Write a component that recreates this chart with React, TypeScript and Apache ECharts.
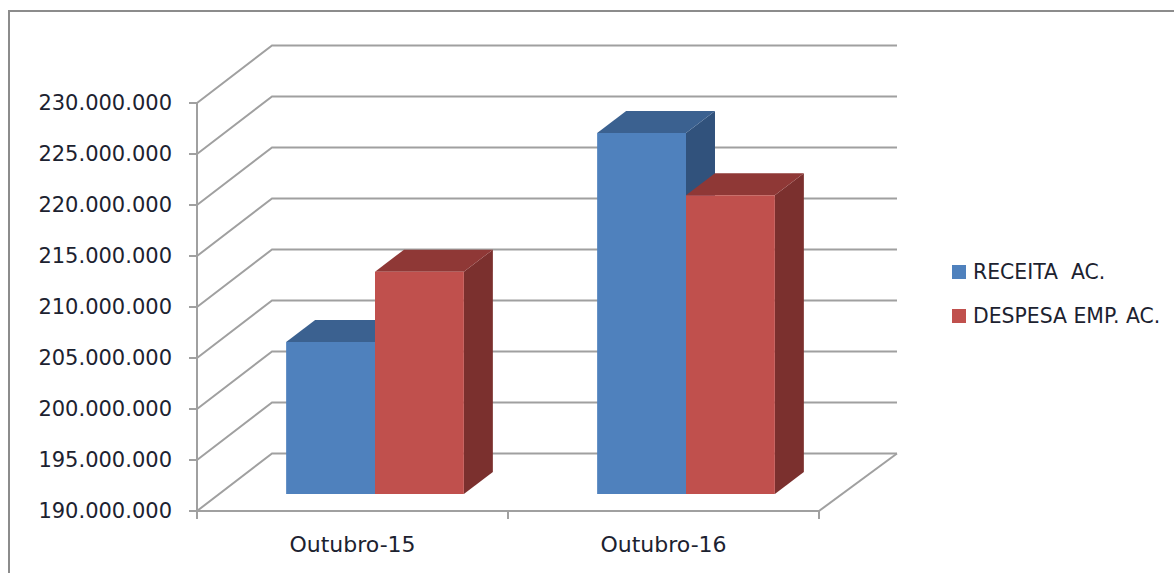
import React, { useEffect, useRef } from "react";
import * as echarts from "echarts";

const categories = ["Outubro-15", "Outubro-16"];
const receita = [204900000, 225400000];
const despesa = [211800000, 219300000];
const yTicks = [190000000, 195000000, 200000000, 205000000, 210000000, 215000000, 220000000, 225000000, 230000000];
const seriesNames = ["RECEITA  AC.", "DESPESA EMP. AC."];

const DEPTH_X_LEFT = 75;
const DEPTH_X_RIGHT = 78;
const DEPTH_Y = 57.5;
const BAR_DX = 22.5;
const BAR_DY = 17;
const SIDE_DX = 29;
const SIDE_DY = 22;
const GRID_COLOR = "#a0a0a0";
const TEXT_COLOR = "#1c2230";
const FONT = "DejaVu Sans";

const fmt = (v: number) => String(Math.round(v)).replace(/\B(?=(\d{3})+(?!\d))/g, ".");

const bar3d = (seriesIndex: number, front: string, top: string, side: string) => (params: any, api: any) => {
  const idx = api.value(0);
  const val = api.value(1);
  const band = api.size([1, 0])[0];
  const barW = band / 3.5;
  const centre = api.coord([idx, val])[0];
  const x0 = centre - barW + seriesIndex * barW + BAR_DX;
  const x1 = x0 + barW;
  const yTop = api.coord([idx, val])[1] - BAR_DY;
  const yBase = api.coord([idx, yTicks[0]])[1] - BAR_DY;
  const dx = SIDE_DX;
  const dy = SIDE_DY;
  return {
    type: "group",
    children: [
      { type: "polygon", shape: { points: [[x1, yTop], [x1 + dx, yTop - dy], [x1 + dx, yBase - dy], [x1, yBase]] }, style: { fill: side } },
      { type: "polygon", shape: { points: [[x0, yTop], [x0 + dx, yTop - dy], [x1 + dx, yTop - dy], [x1, yTop]] }, style: { fill: top } },
      { type: "rect", shape: { x: x0, y: yTop, width: barW, height: yBase - yTop }, style: { fill: front } },
    ],
  };
};

const wallLines = (params: any, api: any) => {
  const val = api.value(1);
  const band = api.size([1, 0])[0];
  const [cx, y] = api.coord([0, val]);
  const left = cx - band / 2;
  const right = left + band * categories.length;
  const children: any[] = [
    {
      type: "polyline",
      shape: { points: [[left, y], [left + DEPTH_X_LEFT, y - DEPTH_Y], [right + DEPTH_X_RIGHT, y - DEPTH_Y]] },
      style: { stroke: GRID_COLOR, lineWidth: 2, fill: "none" },
    },
  ];
  if (val === yTicks[0]) {
    children.push({
      type: "line",
      shape: { x1: right, y1: y, x2: right + DEPTH_X_RIGHT, y2: y - DEPTH_Y },
      style: { stroke: GRID_COLOR, lineWidth: 2 },
    });
  }
  return { type: "group", children };
};

export default function App() {
  const ref = useRef<HTMLDivElement>(null);
  useEffect(() => {
    const chart = echarts.init(ref.current!, undefined, { renderer: "svg" });
    chart.setOption({
      animation: false,
      backgroundColor: "#ffffff",
      textStyle: { fontFamily: FONT },
      grid: { left: 197, top: 103, width: 622, height: 408, containLabel: false },
      graphic: [
        {
          type: "polyline",
          shape: { points: [[9, 573], [9, 11], [1174, 11]] },
          style: { stroke: "#8c8c8c", lineWidth: 2, fill: "none" },
        },
      ],
      legend: {
        data: seriesNames,
        orient: "vertical",
        left: 947,
        top: 257,
        itemWidth: 14,
        itemHeight: 14,
        itemGap: 24,
        icon: "rect",
        textStyle: { fontFamily: FONT, fontSize: 20.4, color: TEXT_COLOR, padding: [0, 0, 0, 2] },
      },
      xAxis: {
        type: "category",
        data: categories,
        axisLine: { lineStyle: { color: GRID_COLOR, width: 2 } },
        axisTick: { show: true, length: 8, lineStyle: { color: GRID_COLOR, width: 2 } },
        axisLabel: { fontFamily: FONT, fontSize: 22, color: TEXT_COLOR, margin: 22 },
        splitLine: { show: false },
      },
      yAxis: {
        type: "value",
        min: yTicks[0],
        max: yTicks[yTicks.length - 1],
        interval: 5000000,
        axisLine: { show: true, lineStyle: { color: GRID_COLOR, width: 2 } },
        axisTick: { show: true, length: 8, lineStyle: { color: GRID_COLOR, width: 2 } },
        axisLabel: { fontFamily: FONT, fontSize: 21, color: TEXT_COLOR, margin: 25, padding: [2, 0, 0, 0], formatter: (v: number) => fmt(v) },
        splitLine: { show: false },
      },
      series: [
        {
          type: "custom",
          name: "walls",
          z: 1,
          silent: true,
          renderItem: wallLines,
          encode: { x: 0, y: 1 },
          data: yTicks.map((t) => [0, t]),
        },
        {
          type: "custom",
          name: seriesNames[0],
          z: 2,
          itemStyle: { color: "#4F81BD" },
          renderItem: bar3d(0, "#4F81BD", "#3B6190", "#31527C"),
          encode: { x: 0, y: 1 },
          data: receita.map((v, i) => [i, v]),
        },
        {
          type: "custom",
          name: seriesNames[1],
          z: 3,
          itemStyle: { color: "#C0504D" },
          renderItem: bar3d(1, "#C0504D", "#8F3836", "#7B302E"),
          encode: { x: 0, y: 1 },
          data: despesa.map((v, i) => [i, v]),
        },
      ],
    });
    return () => chart.dispose();
  }, []);
  return <div ref={ref} style={{ position: "absolute", left: 0, top: 0, width: 1174, height: 573 }} />;
}
